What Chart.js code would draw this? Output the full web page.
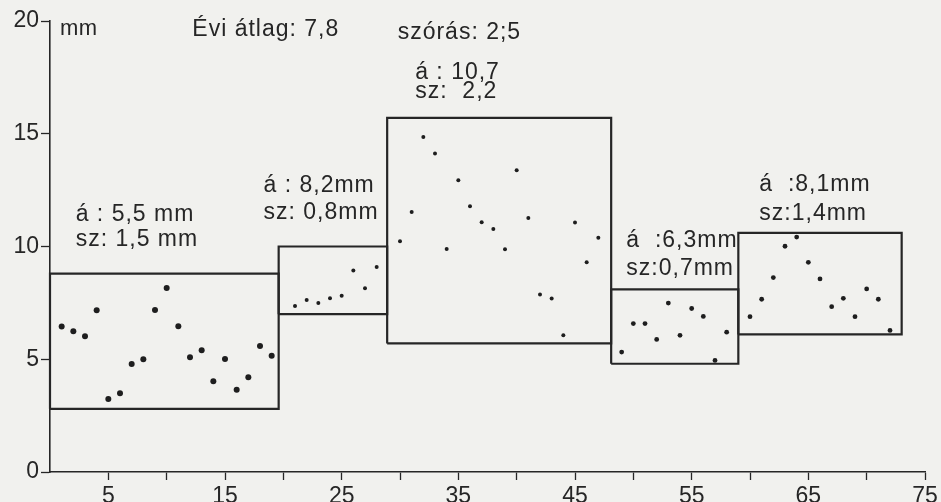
<!DOCTYPE html>
<html>
<head>
<meta charset="utf-8">
<script src="https://cdn.jsdelivr.net/npm/chart.js@4.4.1/dist/chart.umd.min.js"></script>
<style>
  html, body { margin: 0; padding: 0; background: #f1f1ee; }
  #myChart { display: block; background: #f1f1ee; }
</style>
</head>
<body>
<canvas id="myChart" width="941" height="502"></canvas>
<script>
// Pentads (x) and precipitation values in mm (y), one group per period
var pentads1 = [1, 2, 3, 4, 5, 6, 7, 8, 9, 10, 11, 12, 13, 14, 15, 16, 17, 18, 19];
var values1 = [6.45, 6.24, 6.02, 7.17, 3.24, 3.49, 4.79, 5.0, 7.18, 8.16, 6.46, 5.09, 5.4, 4.02, 5.01, 3.65, 4.2, 5.59, 5.16];
var pentads2 = [21, 22, 23, 24, 25, 26, 27, 28];
var values2 = [7.36, 7.63, 7.49, 7.7, 7.82, 8.94, 8.15, 9.09];
var pentads3 = [30, 31, 32, 33, 34, 35, 36, 37, 38, 39, 40, 41, 42, 43, 44, 45, 46, 47];
var values3 = [10.23, 11.53, 14.86, 14.12, 9.89, 12.94, 11.78, 11.07, 10.78, 9.88, 13.38, 11.26, 7.87, 7.69, 6.06, 11.06, 9.3, 10.39];
var pentads4 = [49, 50, 51, 52, 53, 54, 55, 56, 57, 58];
var values4 = [5.32, 6.58, 6.58, 5.88, 7.49, 6.06, 7.25, 6.9, 4.95, 6.2];
var pentads5 = [60, 61, 62, 63, 64, 65, 66, 67, 68, 69, 70, 71, 72];
var values5 = [6.89, 7.66, 8.62, 10.01, 10.42, 9.3, 8.56, 7.33, 7.7, 6.89, 8.12, 7.66, 6.28];

// Period boxes
var boxStart = [0, 19.6, 28.9, 48.1, 59.0];
var boxEnd = [19.6, 28.9, 48.1, 59.0, 73.0];
var boxLow = [2.8, 7.0, 5.7, 4.8, 6.1];
var boxHigh = [8.8, 10.0, 15.7, 8.1, 10.6];

// Texts
var meanLabels = ['á : 5,5 mm', 'á : 8,2mm', 'á : 10,7', 'á  :6,3mm', 'á  :8,1mm'];
var sdLabels = ['sz: 1,5 mm', 'sz: 0,8mm', 'sz:  2,2', 'sz:0,7mm', 'sz:1,4mm'];
var unitLabel = 'mm';
var yearMeanLabel = 'Évi átlag: 7,8';
var yearSdLabel = 'szórás: 2;5';
var xTickLabels = [5, 15, 25, 35, 45, 55, 65, 75];
var yTickLabels = [0, 5, 10, 15, 20];

var ink = '#262626';
var font = '"Liberation Sans", Arial, sans-serif';
var axisFont = '"Liberation Sans Narrow", "Liberation Sans", Arial, sans-serif';

// where the texts sit, in data units (left edge, baseline)
var notePos = [
    { x: 2.2, y: 11.15, dy: 1.11 },
    { x: 18.3, y: 12.4, dy: 1.2 },
    { x: 31.3, y: 17.45, dy: 0.88 },
    { x: 49.4, y: 9.96, dy: 1.24 },
    { x: 60.8, y: 12.45, dy: 1.29 }
];

function pairs(xs, ys) {
    return xs.map(function (x, i) { return { x: x, y: ys[i] }; });
}

function boxPoints(i) {
    return [
        { x: boxStart[i], y: boxLow[i] },
        { x: boxEnd[i], y: boxLow[i] },
        { x: boxEnd[i], y: boxHigh[i] },
        { x: boxStart[i], y: boxHigh[i] },
        { x: boxStart[i], y: boxLow[i] }
    ];
}

var datasets = [];
for (var i = 0; i < boxStart.length; i++) {
    datasets.push({
        data: boxPoints(i),
        showLine: true,
        borderColor: ink,
        borderWidth: 2.2,
        pointRadius: 0,
        tension: 0,
        clip: false
    });
}

var dotGroups = [[pentads1, values1, 3], [pentads2, values2, 2], [pentads3, values3, 2],
                 [pentads4, values4, 2.4], [pentads5, values5, 2.4]];
dotGroups.forEach(function (g) {
    datasets.push({
        data: pairs(g[0], g[1]),
        backgroundColor: '#1e1e1e',
        borderWidth: 0,
        pointRadius: g[2],
        clip: false
    });
});

// draws the period texts and the header
var notesPlugin = {
    id: 'notes',
    afterDatasetsDraw: function (chart) {
        var ctx = chart.ctx;
        var xs = chart.scales.x, ys = chart.scales.y;
        ctx.save();
        ctx.fillStyle = ink;
        ctx.textBaseline = 'alphabetic';
        ctx.textAlign = 'left';
        ctx.font = '23px ' + font;
        ctx.letterSpacing = '1px';
        notePos.forEach(function (p, i) {
            ctx.fillText(meanLabels[i], xs.getPixelForValue(p.x), ys.getPixelForValue(p.y));
            ctx.fillText(sdLabels[i], xs.getPixelForValue(p.x), ys.getPixelForValue(p.y - p.dy));
        });
        ctx.fillText(yearMeanLabel, xs.getPixelForValue(12.2), ys.getPixelForValue(19.35));
        ctx.fillText(yearSdLabel, xs.getPixelForValue(29.8), ys.getPixelForValue(19.2));
        ctx.letterSpacing = '0.5px';
        ctx.font = '22px ' + font;
        ctx.fillText(unitLabel, xs.getPixelForValue(0.85), ys.getPixelForValue(19.4));
        ctx.restore();
    }
};

var ctx = document.getElementById('myChart').getContext('2d');
var myChart = new Chart(ctx, {
    type: 'scatter',
    data: { datasets: datasets },
    plugins: [notesPlugin],
    options: {
        responsive: false,
        animation: false,
        layout: { padding: { top: 21, right: 16, left: 0, bottom: 0 } },
        plugins: {
            legend: { display: false },
            tooltip: { enabled: false }
        },
        scales: {
            x: {
                type: 'linear',
                min: 0,
                max: 75,
                afterFit: function (s) { s.height = 30; },
                border: { color: ink, width: 1.6 },
                grid: {
                    drawOnChartArea: false,
                    tickLength: 8,
                    tickWidth: 1.3,
                    color: function (c) { return c.tick && c.tick.value === 0 ? 'rgba(0,0,0,0)' : ink; }
                },
                ticks: {
                    stepSize: 5,
                    autoSkip: false,
                    maxRotation: 0,
                    padding: 3,
                    color: ink,
                    font: { family: axisFont, size: 23 },
                    callback: function (v) { return xTickLabels.indexOf(v) >= 0 ? String(v) : ''; }
                }
            },
            y: {
                min: 0,
                max: 20,
                afterFit: function (s) { s.width = 50; },
                border: { color: ink, width: 1.6 },
                grid: {
                    drawOnChartArea: false,
                    tickLength: 9,
                    tickWidth: 1.3,
                    color: ink
                },
                ticks: {
                    stepSize: 5,
                    padding: 2,
                    color: ink,
                    font: { family: axisFont, size: 23 },
                    callback: function (v) { return yTickLabels.indexOf(v) >= 0 ? String(v) : ''; }
                }
            }
        }
    }
});
</script>
</body>
</html>
